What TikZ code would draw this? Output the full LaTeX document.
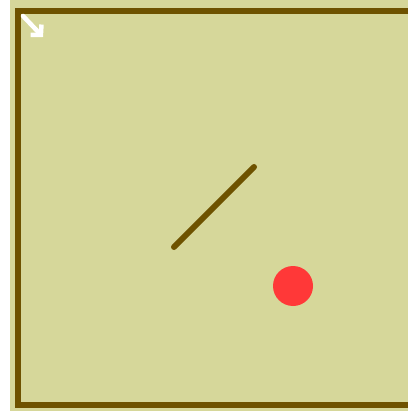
\documentclass[tikz,border=0pt]{standalone}
\usetikzlibrary{arrows.meta}
\definecolor{bgolive}{HTML}{D6D79A}
\definecolor{bordbrown}{HTML}{6E5200}
\definecolor{dotred}{HTML}{FF3838}
\tikzset{
  wall/.style={draw=bordbrown, line width=6.5pt},
  stick/.style={draw=bordbrown, line width=6pt, line cap=round},
}
\begin{document}
\begin{tikzpicture}[x=1pt,y=-1pt]
\useasboundingbox (0,0) rectangle (408,411);
\fill[white] (0,0) rectangle (408,411);
\fill[bgolive] (10,0) rectangle (408,411);
\draw[wall, line join=miter] (408,11) -- (18,11) -- (18,405) -- (408,405);
\draw[stick] (174,247) -- (254,167);
\fill[dotred] (293,286) circle (20);
\draw[white, line width=4.5pt, line cap=round, -{Straight Barb[length=7pt,width=15pt,line width=4.5pt]}] (23,16) -- (43,37);
\end{tikzpicture}
\end{document}
